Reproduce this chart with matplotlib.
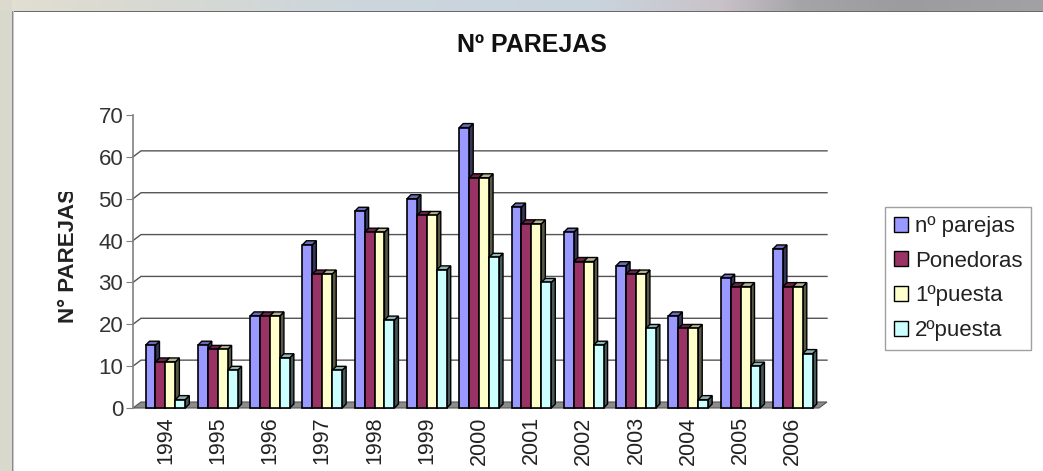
import numpy as np
import matplotlib
matplotlib.use('Agg')
import matplotlib.pyplot as plt
from matplotlib.patches import Polygon, Rectangle
from matplotlib.colors import to_rgb
from matplotlib.transforms import Bbox

# ---------------- data ----------------
years = ['1994', '1995', '1996', '1997', '1998', '1999', '2000',
         '2001', '2002', '2003', '2004', '2005', '2006']
parejas = [15, 15, 22, 39, 47, 50, 67, 48, 42, 34, 22, 31, 38]
ponedoras = [11, 14, 22, 32, 42, 46, 55, 44, 35, 32, 19, 29, 29]
puesta1 = [11, 14, 22, 32, 42, 46, 55, 44, 35, 32, 19, 29, 29]
puesta2 = [2, 9, 12, 9, 21, 33, 36, 30, 15, 19, 2, 10, 13]
series_names = ['nº parejas', 'Ponedoras', '1ºpuesta', '2ºpuesta']
series_colors = ['#9999FF', '#993366', '#FFFFCC', '#CCFFFF']
yticks = [0, 10, 20, 30, 40, 50, 60, 70]

series = [parejas, ponedoras, puesta1, puesta2]

FONT = ['Liberation Sans', 'DejaVu Sans']
plt.rcParams['font.family'] = FONT

W, H = 1043, 471
fig = plt.figure(figsize=(W / 100, H / 100), dpi=100)
fig.patch.set_facecolor('white')

# ---------------- window frame decoration ----------------
bg = fig.add_axes([0, 0, 1, 1], zorder=-10)
bg.axis('off')
img = np.ones((H, W, 3))
stops_x = [0, 150, 350, 600, 720, 800, 900, W]
stops_c = ['#e2dfd2', '#d8d9d2', '#cdd6dc', '#c9d3dc', '#c9c2c8', '#a5a5a8', '#9c9c9e', '#a2a2a4']
cols = np.array([to_rgb(c) for c in stops_c])
xs = np.arange(W)
top = np.stack([np.interp(xs, stops_x, cols[:, k]) for k in range(3)], axis=1)
img[0:11, :, :] = top[None, :, :]
img[:, 0:12, :] = np.array(to_rgb('#d9d8cc'))[None, None, :]
img[0:11, 0:12, :] = np.array(to_rgb('#dcdace'))
img[11, 12:, :] = np.array(to_rgb('#6a6a6a'))
img[11:, 12, :] = np.array(to_rgb('#8a8a8a'))
img[11:, 13, :] = np.array(to_rgb('#c8c8c8'))
bg.imshow(img, extent=[0, W, H, 0], aspect='auto', interpolation='nearest')
bg.set_xlim(0, W)
bg.set_ylim(H, 0)

# ---------------- main axes ----------------
ax = fig.add_axes([133 / W, 63 / H, 686 / W, 293 / H])
ax.set_facecolor('none')
x0, x1 = -0.62, 12.5
ax.set_xlim(x0, x1)
ax.set_ylim(0, 70)

# 3D depth (data units)
px_x = (x1 - x0) / 686.0
px_y = 70.0 / 293.0
wall_dx, wall_dy = 8 * px_x, 6 * px_y
bar_dx, bar_dy = 4 * px_x, 4 * px_y

# floor
floor = Polygon([(x0, 0), (x1, 0), (x1 + wall_dx, wall_dy), (x0 + wall_dx, wall_dy)],
                closed=True, facecolor='#8c8c8c', edgecolor='#555555', lw=0.8,
                clip_on=False, zorder=1)
ax.add_patch(floor)

# wall gridlines
for yv in yticks[1:-1]:
    ax.plot([x0, x0 + wall_dx, x1 + wall_dx], [yv, yv + wall_dy, yv + wall_dy],
            color='#555555', lw=1.0, clip_on=False, zorder=0.5)


def darker(c, f):
    r, g, b = to_rgb(c)
    return (r * f, g * f, b * f)


bw = 0.19
n = len(series)
for i in range(len(years)):
    for j in range(n):
        h = series[j][i]
        c = series_colors[j]
        left = i - bw * n / 2 + j * bw
        right = left + bw
        side = Polygon([(right, 0), (right + bar_dx, bar_dy), (right + bar_dx, h + bar_dy), (right, h)],
                       closed=True, facecolor=darker(c, 0.35), edgecolor='black', lw=1.0,
                       zorder=2 + j * 0.01, clip_on=False)
        topf = Polygon([(left, h), (left + bar_dx, h + bar_dy), (right + bar_dx, h + bar_dy), (right, h)],
                       closed=True, facecolor=darker(c, 0.7), edgecolor='black', lw=1.0,
                       zorder=2 + j * 0.01, clip_on=False)
        front = Rectangle((left, 0), bw, h, facecolor=c, edgecolor='black', lw=1.2,
                          zorder=2 + j * 0.01 + 0.005, clip_on=False)
        ax.add_patch(side)
        ax.add_patch(topf)
        ax.add_patch(front)

# axes styling
for s in ['top', 'right', 'bottom']:
    ax.spines[s].set_visible(False)
ax.spines['left'].set_color('#808080')
ax.spines['left'].set_linewidth(1.2)
ax.set_yticks(yticks)
ax.set_yticklabels([str(v) for v in yticks])
ax.tick_params(axis='y', direction='out', length=5, color='#808080', labelsize=16,
               labelcolor='#333333', pad=2)
ax.set_xticks(range(len(years)))
ax.set_xticklabels(years, rotation=90)
ax.tick_params(axis='x', length=0, labelsize=15.5, labelcolor='#222222', pad=6)

yl = ax.set_ylabel('N° PAREJAS', fontsize=16, fontweight='bold', color='#222222', labelpad=14)
yl.set_y(0.52)
yl.set_clip_on(True)
yl.set_clip_box(Bbox.from_extents(0, 0, W, H - 192))

fig.text(532 / W, 1 - 45 / H, 'Nº PAREJAS', ha='center', va='center',
         fontsize=18, fontweight='bold', color='#111111')

handles = [Rectangle((0, 0), 1, 1, facecolor=c, edgecolor='black', lw=1.0) for c in series_colors]
leg = fig.legend(handles, series_names, loc='upper left', bbox_to_anchor=(885 / W, 1 - 207 / H),
                 fontsize=16, frameon=True, fancybox=False, edgecolor='#888888',
                 handlelength=0.65, handleheight=0.65, handletextpad=0.3,
                 labelspacing=0.62, borderpad=0.4, borderaxespad=0)
leg.get_frame().set_linewidth(1.0)
for t in leg.get_texts():
    t.set_color('#222222')

fig.savefig('out.png', dpi=100)
